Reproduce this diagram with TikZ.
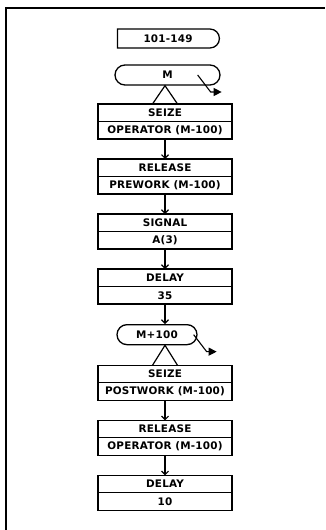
\documentclass[tikz,border=0pt]{standalone}
\usepackage{fontspec}
\setmainfont{DejaVu Sans}
\usepackage{tikz}
\usetikzlibrary{positioning,shapes.misc,arrows.meta}

\begin{document}
\begin{tikzpicture}[
    x=1pt, y=1pt,
    font=\fontsize{10.4}{11}\selectfont\bfseries\addfontfeature{LetterSpace=2},
    node distance = 20pt,
    half/.style  = {draw=black, line width=1.3pt, minimum width=134pt,
                    minimum height=17.5pt, inner sep=0pt, outer sep=0pt},
    gen/.style   = {draw=black, line width=1.3pt, rounded rectangle,
                    rounded rectangle left arc=none, minimum width=102pt,
                    minimum height=19pt, inner sep=0pt},
    que/.style   = {draw=black, line width=1.3pt, rounded rectangle,
                    minimum height=20pt, inner sep=0pt},
    flow/.style  = {-{Straight Barb[length=3.5pt,width=7pt]}, line width=1.1pt},
    exit/.style  = {-{Triangle[length=8pt,width=8pt]}, line width=1.1pt},
    spike/.style = {line width=1.2pt},
]
\useasboundingbox (0,0) rectangle (325,-530);

%============================ FRAME =================================
\draw[line width=1.8pt] (6,-530) -- (6,-8) -- (325,-8);

%============================ SOURCE ================================
\node[gen] (src) at (168,-38.5) {101-149};
\node[que, minimum width=105pt] (m) at (167.5,-75) {M};

%============================ FIRST PART ============================
\node[half] (sz1) at (165,-112.75) {SEIZE};
\node[half, below=0pt of sz1] (op1) {OPERATOR (M-100)};
\node[half, below=of op1] (rl1) {RELEASE};
\node[half, below=0pt of rl1] (pw1) {PREWORK (M-100)};
\node[half, below=of pw1] (sg) {SIGNAL};
\node[half, below=0pt of sg] (a3) {A(3)};
\node[half, below=of a3] (dl1) {DELAY};
\node[half, below=0pt of dl1] (d35) {35};

%============================ SECOND PART ===========================
\node[que, minimum width=80pt, below=of d35, xshift=-8pt] (m100) {M+100};
\coordinate (c2) at (m100.south -| d35.south);
\node[half, below=of c2] (sz2) {SEIZE};
\node[half, below=0pt of sz2] (po2) {POSTWORK (M-100)};
\node[half, below=of po2] (rl2) {RELEASE};
\node[half, below=0pt of rl2] (op2) {OPERATOR (M-100)};
\node[half, below=of op2] (dl2) {DELAY};
\node[half, below=0pt of dl2] (d10) {10};

%============================ CONNECTORS ============================
\draw[spike] ([xshift=-12.5pt]sz1.north) -- (sz1.north |- m.south)
             -- ([xshift=12.5pt]sz1.north);
\draw[spike] ([xshift=-12.5pt]sz2.north) -- (sz2.north |- m100.south)
             -- ([xshift=12.5pt]sz2.north);
\draw[exit] ([xshift=-23pt]m.east) -- ++(13,-17) -- ++(11,0);
\draw[exit] ([xshift=-4pt]m100.east) -- ++(13,-17) -- ++(10,0);

\draw[flow] (op1.south) -- (rl1.north);
\draw[flow] (pw1.south) -- (sg.north);
\draw[flow] (a3.south) -- (dl1.north);
\draw[flow] (d35.south) -- (d35.south |- m100.north);
\draw[flow] (po2.south) -- (rl2.north);
\draw[flow] (op2.south) -- (dl2.north);

\end{tikzpicture}
\end{document}
